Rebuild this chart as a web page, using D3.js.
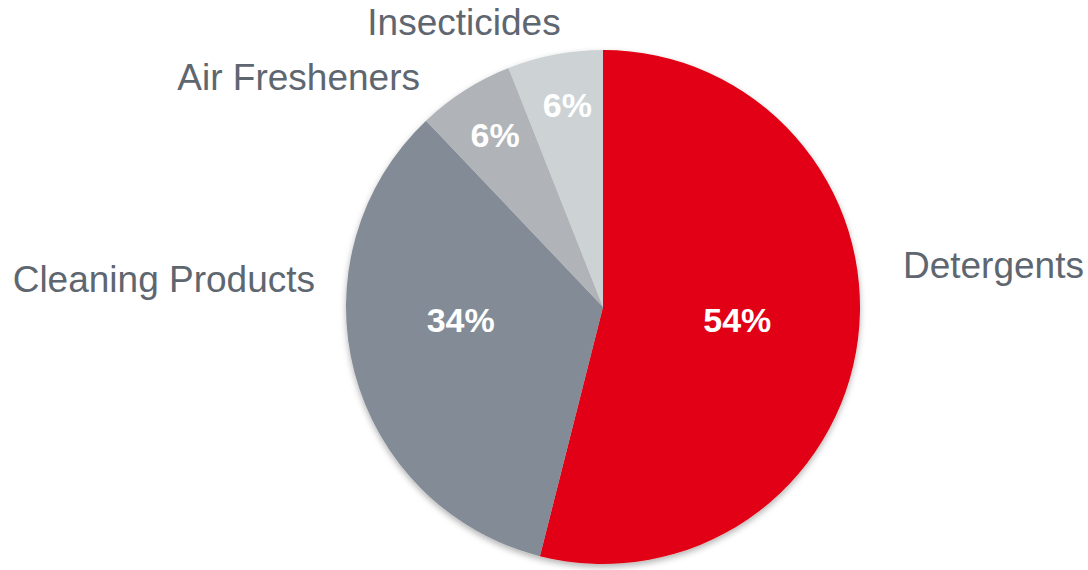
<!DOCTYPE html>
<html>
<head>
<meta charset="utf-8">
<script src="https://cdn.jsdelivr.net/npm/d3@7"></script>
<style>
  html, body { margin: 0; padding: 0; background: #fff; }
  svg { display: block; font-family: "Liberation Sans", Arial, sans-serif; }
  .cat { fill: #5e6670; font-size: 37px; }
  .pct { fill: #fff; font-size: 34px; font-weight: bold; }
</style>
</head>
<body>
<div id="chart"></div>
<script>
// data
const categories = ['Detergents', 'Cleaning Products', 'Air Fresheners', 'Insecticides'];
const shares = [54, 34, 6.1, 6];
const shareLabels = ['54%', '34%', '6%', '6%'];
const colors = ['#e10012', '#838c96', '#b0b4b8', '#cdd3d4'];

// label layout (angle in degrees clockwise from top, radius as fraction of pie radius)
const innerPolar = [[95.5, 0.525], [264.8, 0.556], [327.9, 0.79], [350, 0.8]];
const outerPolar = [[81.9, 1.179, 'start'], [275.6, 1.126, 'end'], [321.5, 1.144, 'end'], [334, 1.234, 'middle']];

const width = 1088, height = 570;
const cx = 603, cy = 307, radius = 257;

const svg = d3.select('#chart').append('svg')
  .attr('width', width).attr('height', height)
  .attr('viewBox', `0 0 ${width} ${height}`);

const defs = svg.append('defs');
defs.append('filter').attr('id', 'shadow')
  .attr('x', '-10%').attr('y', '-10%').attr('width', '120%').attr('height', '120%')
  .append('feDropShadow')
  .attr('dx', 0).attr('dy', 3).attr('stdDeviation', 3)
  .attr('flood-color', '#000').attr('flood-opacity', 0.3);

const g = svg.append('g').attr('transform', `translate(${cx},${cy})`);

const data = categories.map((c, i) => ({cat: c, value: shares[i], label: shareLabels[i], i}));

const pie = d3.pie().sort(null).value(d => d.value);
const arc = d3.arc().innerRadius(0).outerRadius(radius);
const color = d3.scaleOrdinal(categories, colors);

g.append('g').attr('filter', 'url(#shadow)')
  .selectAll('path')
  .data(pie(data))
  .join('path')
  .attr('d', arc)
  .attr('fill', d => color(d.data.cat));

// polar -> xy relative to centre
const polar = (deg, frac) => {
  const a = deg * Math.PI / 180;
  return [Math.sin(a) * frac * radius, -Math.cos(a) * frac * radius];
};

g.selectAll('text.pct')
  .data(data)
  .join('text')
  .attr('class', 'pct')
  .attr('text-anchor', 'middle')
  .attr('dy', '0.358em')
  .attr('x', d => polar(innerPolar[d.i][0], innerPolar[d.i][1])[0])
  .attr('y', d => polar(innerPolar[d.i][0], innerPolar[d.i][1])[1])
  .text(d => d.label);

g.selectAll('text.cat')
  .data(data)
  .join('text')
  .attr('class', 'cat')
  .attr('text-anchor', d => outerPolar[d.i][2])
  .attr('dy', '0.358em')
  .attr('x', d => polar(outerPolar[d.i][0], outerPolar[d.i][1])[0])
  .attr('y', d => polar(outerPolar[d.i][0], outerPolar[d.i][1])[1])
  .text(d => d.cat);
</script>
</body>
</html>
